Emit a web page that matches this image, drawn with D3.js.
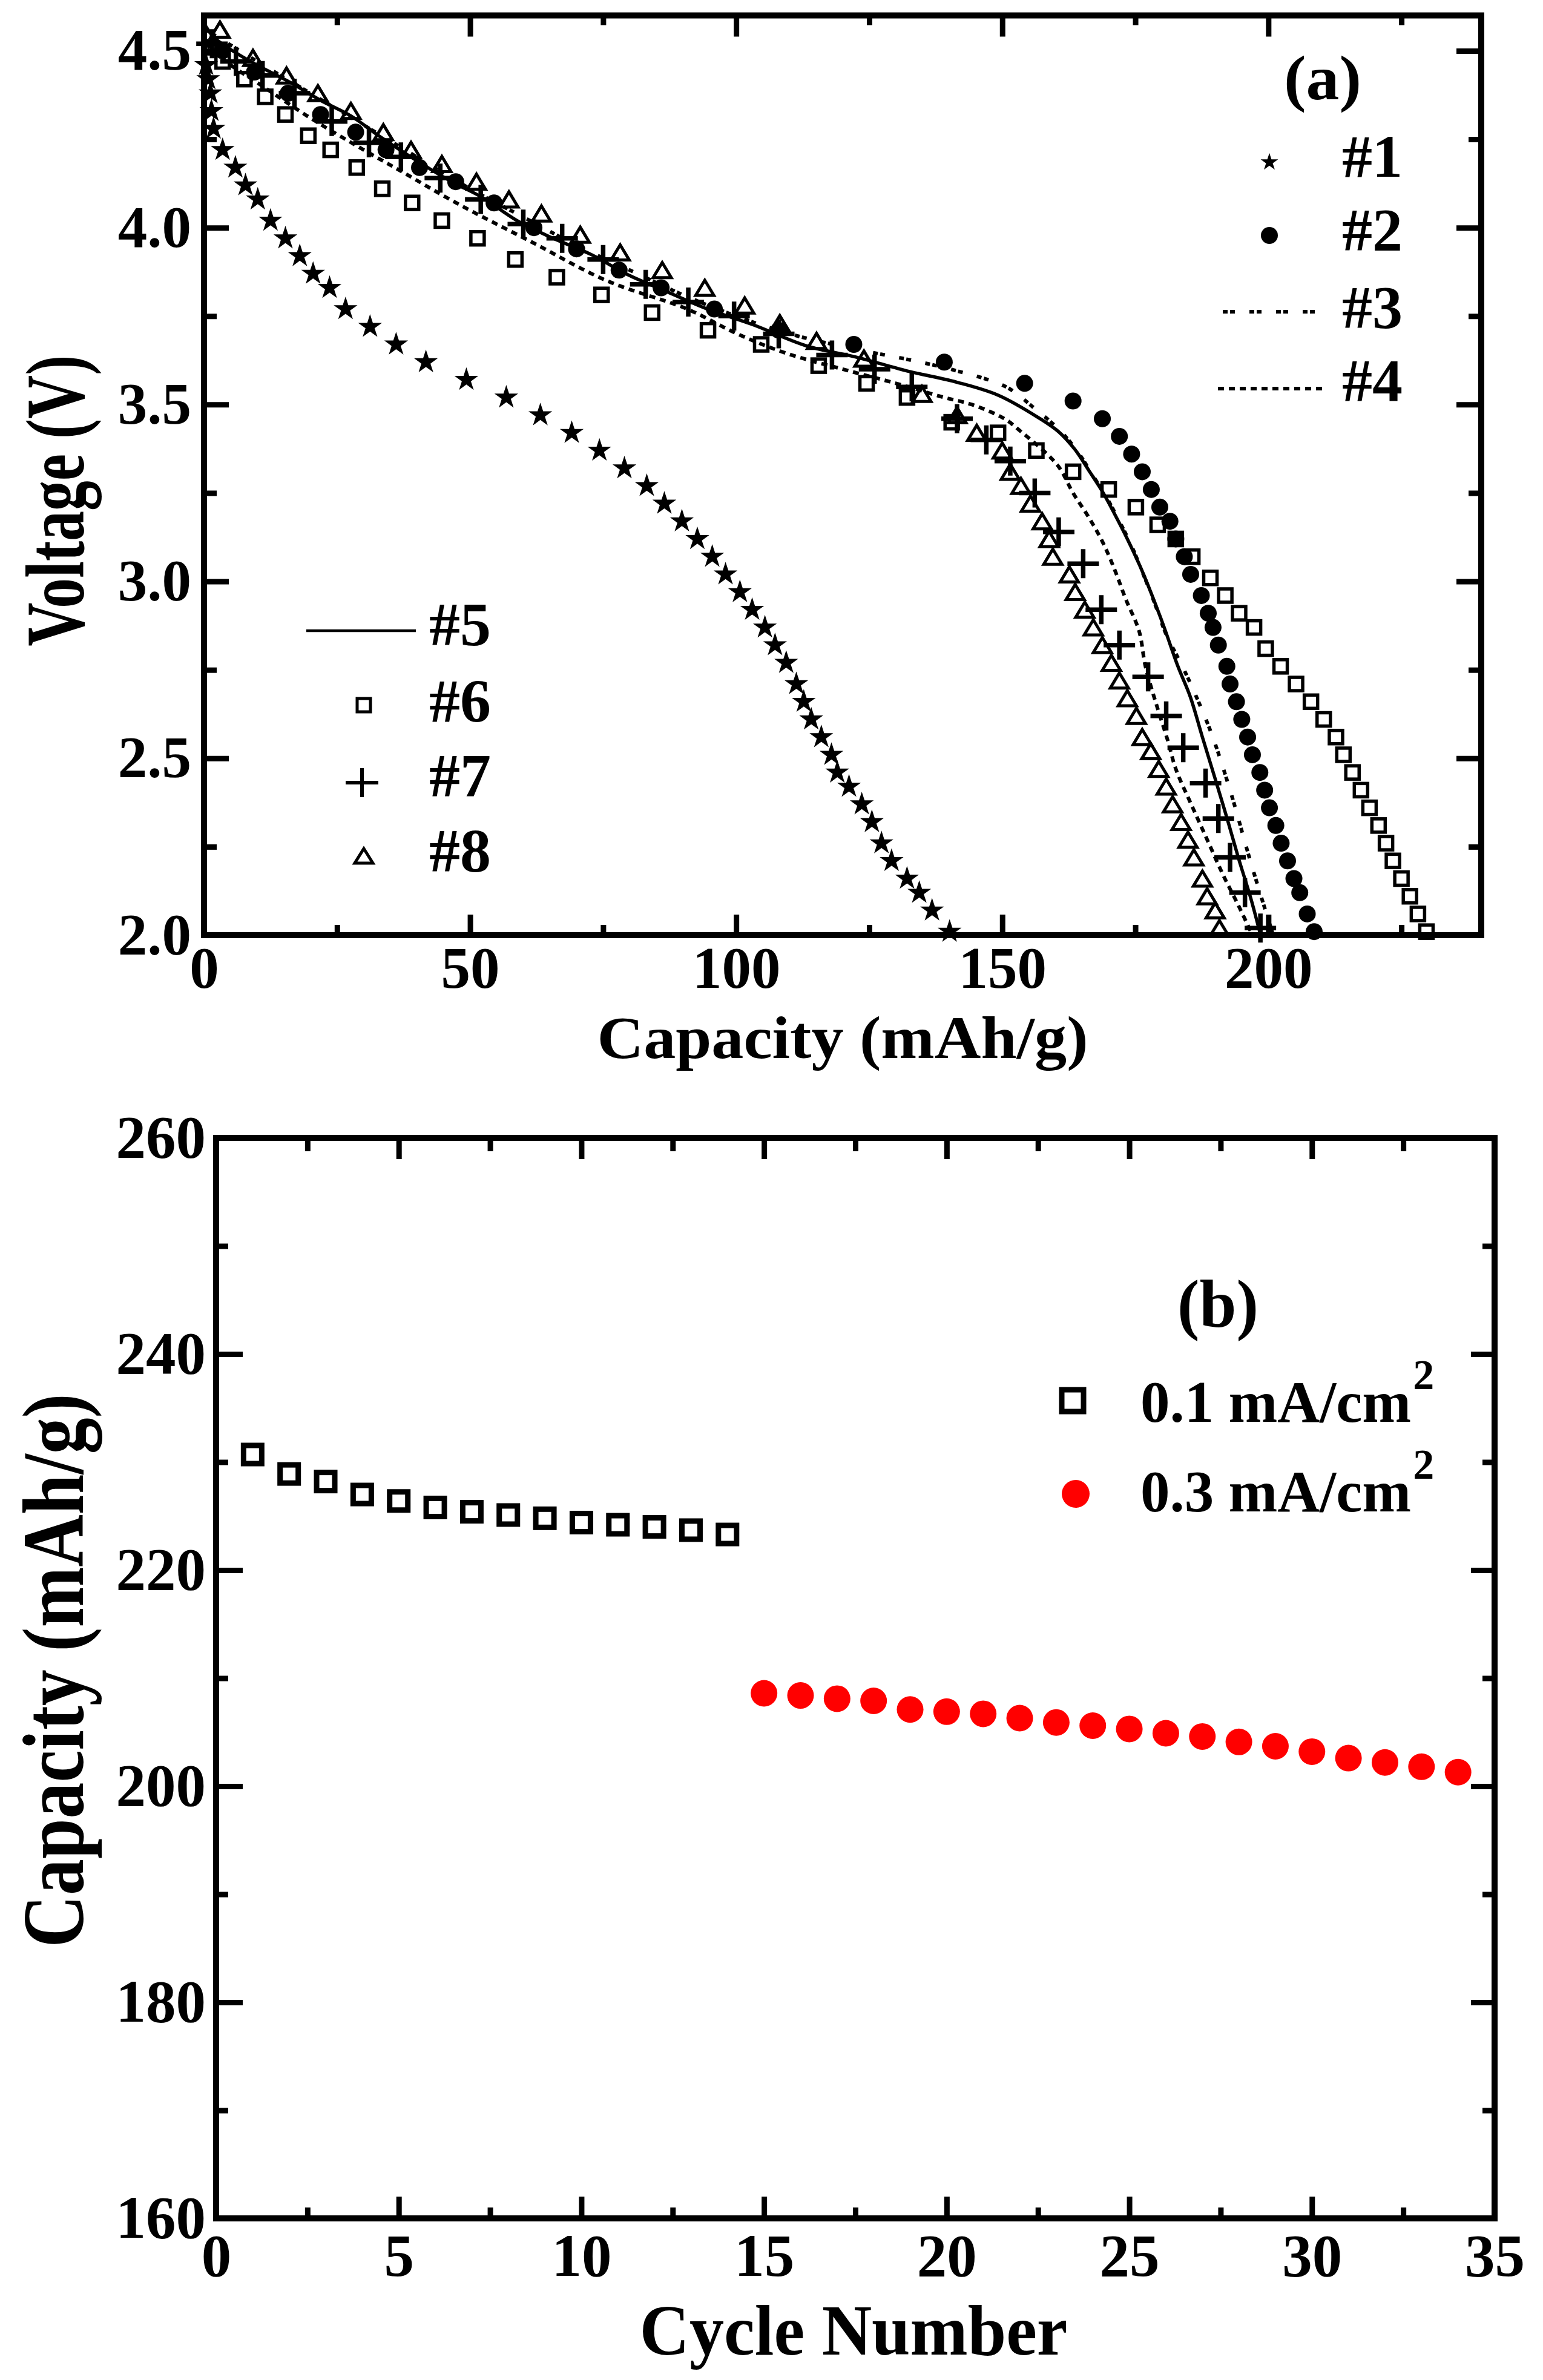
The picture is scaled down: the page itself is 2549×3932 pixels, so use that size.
<!DOCTYPE html>
<html>
<head>
<meta charset="utf-8">
<script src="https://cdn.jsdelivr.net/npm/d3@7"></script>
<style>
body { margin: 0; background: #fff; }
svg { display: block; }
</style>
</head>
<body>
<div id="cont"></div>
<script>
// ---- panel (a) data : [capacity mAh/g, voltage V] ----
var s1 = [[0.4,4.46],[0.8,4.42],[1.2,4.38],[1.4,4.33],[1.8,4.28],[3.5,4.22],[5.9,4.17],[7.8,4.12],[10.1,4.08],[12.5,4.02],
    [15.3,3.97],[18.0,3.92],[20.5,3.87],[23.6,3.83],[26.6,3.77],[31.2,3.72],[36.1,3.67],[41.7,3.62],[49.3,3.57],[56.8,3.52],
    [63.2,3.47],[69.1,3.42],[74.3,3.37],[79.0,3.32],[83.2,3.27],[86.5,3.22],[89.8,3.17],[92.7,3.12],[95.5,3.07],[98.0,3.02],
    [100.7,2.97],[103.0,2.92],[105.4,2.87],[107.3,2.82],[109.4,2.77],[111.3,2.71],[112.7,2.66],[114.1,2.61],[116.0,2.56],[117.9,2.51],
    [119.0,2.46],[121.2,2.42],[123.6,2.37],[125.5,2.32],[127.3,2.26],[129.2,2.21],[132.1,2.16],[134.4,2.12],[136.8,2.07],[140.1,2.01]];

var s2 = [[3.5,4.50],[9.5,4.44],[15.8,4.38],[21.9,4.32],[28.5,4.27],[34.2,4.22],[40.5,4.17],[47.3,4.13],[54.5,4.07],[62,4.00],
    [70,3.94],[78,3.88],[85.9,3.83],[95.9,3.77],[108,3.71],[122.1,3.67],[139.1,3.62],[154.2,3.56],[163.3,3.51],[168.8,3.46],
    [172.0,3.41],[174.3,3.36],[176.3,3.31],[178.0,3.26],[179.6,3.21],[181.5,3.17],[182.6,3.12],[184.2,3.07],[185.4,3.02],[187.4,2.96],
    [188.7,2.91],[189.6,2.87],[190.6,2.82],[192.2,2.76],[192.8,2.71],[194.0,2.66],[195.0,2.61],[196.1,2.56],[197.0,2.51],[198.4,2.46],
    [199.3,2.41],[200.2,2.36],[201.4,2.31],[202.4,2.26],[203.6,2.21],[204.8,2.16],[205.9,2.12],[207.3,2.06],[208.6,2.01]];

var s3 = [[0.3,4.56],[10,4.47],[20,4.38],[30,4.29],[40,4.20],[50,4.11],[60,4.03],[70,3.95],[80,3.88],[90,3.81],
    [100,3.75],[110,3.70],[122.6,3.656],[132.1,3.628],[141.5,3.595],[150.7,3.55],[156,3.49],[160.6,3.43],[164,3.37],[167,3.30],
    [169.5,3.24],[172,3.17],[174.3,3.10],[176.5,3.02],[178.6,2.94],[180.8,2.85],[183.5,2.77],[185.7,2.70],[189.3,2.57],[192.8,2.41],
    [196.8,2.20],[200.9,2.00]];

var s4 = [[0.3,4.52],[5,4.46],[10,4.41],[20,4.31],[30,4.22],[37,4.16],[47.4,4.07],[61.5,3.96],[75.7,3.85],[90.8,3.77],
    [100.2,3.70],[109.4,3.645],[120,3.60],[130,3.56],[139.1,3.52],[144.3,3.50],[150.4,3.46],[153.0,3.43],[160.3,3.33],[163.3,3.25],
    [166.3,3.18],[168.9,3.11],[171.2,3.03],[173.2,2.95],[175.7,2.86],[176.9,2.76],[179.0,2.65],[181.1,2.55],[182.6,2.47],[185.5,2.37],
    [188.5,2.27],[191.5,2.17],[194.5,2.08],[197.0,2.00]];

var s5 = [[0.3,4.57],[2.1,4.535],[8.7,4.47],[16.3,4.41],[21.9,4.36],[27.6,4.316],[33.2,4.256],[39.8,4.191],[46.4,4.131],[52.1,4.087],
    [58.7,4.021],[65.3,3.972],[72.9,3.923],[79.5,3.868],[87.0,3.819],[94.6,3.770],[103.1,3.726],[113.2,3.666],[122.6,3.634],[132.1,3.595],
    [141.5,3.563],[149.3,3.526],[156.9,3.462],[160.6,3.423],[163.7,3.372],[166.3,3.313],[168.9,3.252],[171.2,3.188],[173.5,3.120],[175.8,3.046],
    [178.0,2.966],[180.3,2.875],[183.0,2.760],[185.3,2.675],[187.6,2.560],[189.9,2.447],[192.2,2.332],[194.4,2.217],[196.7,2.104],[198.5,2.002]];

var s6 = [[1.0,4.51],[3.5,4.47],[7.6,4.42],[11.5,4.37],[15.3,4.32],[19.6,4.26],[23.8,4.22],[28.7,4.17],[33.5,4.11],[39.1,4.07],
    [44.7,4.02],[51.4,3.97],[58.5,3.91],[66.3,3.86],[74.7,3.81],[84.2,3.76],[94.7,3.71],[104.7,3.67],[115.5,3.61],[124.5,3.56],
    [132.1,3.52],[140.5,3.45],[149.2,3.42],[156.4,3.37],[163.3,3.31],[170.0,3.26],[175.1,3.21],[179.2,3.16],[182.6,3.12],[185.7,3.07],
    [189.1,3.01],[191.9,2.96],[194.5,2.91],[197.3,2.87],[199.5,2.81],[202.3,2.76],[205.2,2.71],[208.0,2.66],[210.4,2.61],[212.7,2.56],
    [214.1,2.51],[215.8,2.46],[217.4,2.41],[219.0,2.36],[220.7,2.31],[222.1,2.26],[223.4,2.21],[225.0,2.16],[226.6,2.11],[228.1,2.06],
    [229.7,2.01]];

var s7 = [[1.5,4.52],[6,4.47],[11,4.43],[17,4.38],[24,4.30],[31,4.24],[37,4.20],[44.4,4.14],[52,4.08],[60,4.01],
    [67.3,3.97],[75,3.91],[83,3.84],[91,3.79],[99.6,3.75],[108,3.70],[118,3.64],[126,3.60],[133,3.55],[141.5,3.46],
    [147,3.40],[151.5,3.34],[156.1,3.25],[160.6,3.14],[165.2,3.05],[168.6,2.92],[172.0,2.82],[177.4,2.73],[180.8,2.62],[184.0,2.53],
    [188.2,2.43],[190.6,2.33],[192.8,2.22],[195.6,2.12],[198.5,2.02]];

var s8 = [[3.0,4.56],[9.2,4.48],[15.5,4.43],[21.4,4.38],[27.6,4.33],[33.7,4.27],[38.9,4.22],[44.7,4.18],[51.2,4.13],[57.3,4.08],
    [63.4,4.04],[70.7,3.98],[78.2,3.93],[86.1,3.88],[94.1,3.83],[101.6,3.78],[108.2,3.73],[115.1,3.68],[124.0,3.63],[134.9,3.53],
    [141.5,3.47],[145.2,3.42],[150.0,3.37],[151.5,3.31],[153.5,3.27],[155.3,3.22],[157.5,3.17],[158.8,3.12],[159.5,3.07],[162.6,3.02],
    [163.7,2.97],[165.5,2.92],[167.1,2.87],[168.8,2.82],[170.5,2.77],[172.0,2.72],[173.5,2.67],[175.2,2.62],[176.3,2.56],[177.9,2.52],
    [179.4,2.47],[180.8,2.42],[182.0,2.37],[183.6,2.32],[184.9,2.27],[186.0,2.22],[187.6,2.16],[188.5,2.11],[190.0,2.07],[190.8,2.02]];

var aXTicks = [0, 50, 100, 150, 200];
var aXMinor = [25, 75, 125, 175, 225];
var aYTicks = [2.0, 2.5, 3.0, 3.5, 4.0, 4.5];
var aYMinor = [2.25, 2.75, 3.25, 3.75, 4.25];
var legendR = ["#1", "#2", "#3", "#4"];
var legendL = ["#5", "#6", "#7", "#8"];

// ---- panel (b) data ----
var cyc01 = [1,2,3,4,5,6,7,8,9,10,11,12,13,14];
var cap01 = [230.7,228.9,228.2,227.0,226.4,225.8,225.4,225.1,224.8,224.4,224.2,224.0,223.7,223.3];
var cyc03 = [15,16,17,18,19,20,21,22,23,24,25,26,27,28,29,30,31,32,33,34];
var cap03 = [208.6,208.4,208.1,207.9,207.1,206.9,206.7,206.3,205.9,205.6,205.3,204.9,204.6,204.1,203.7,203.2,202.6,202.2,201.8,201.3];
var bXTicks = [0, 5, 10, 15, 20, 25, 30, 35];
var bXMinor = [2.5, 7.5, 12.5, 17.5, 22.5, 27.5, 32.5];
var bYTicks = [160, 180, 200, 220, 240, 260];
var bYMinor = [170, 190, 210, 230, 250];
var legendB = ["0.1 mA/cm", "0.3 mA/cm"];

var FONT = '"Liberation Serif", "Times New Roman", serif';

var svg = d3.select("#cont").append("svg")
    .attr("width", 2549)
    .attr("height", 3932);
svg.append("rect").attr("width", 2549).attr("height", 3932).attr("fill", "#fff");

// ticks pointing inward, labels optional
function axisSet(gen, scale, vals, len, tx, ty, fmt, pad, fs) {
    var ax = gen(scale).tickValues(vals).tickSize(-len).tickPadding(pad || 0)
        .tickFormat(fmt ? fmt : function() { return ""; });
    var g = svg.append("g")
        .attr("transform", "translate(" + tx + "," + ty + ")")
        .call(ax);
    // axis() writes its own font attrs on the group, so override afterwards
    g.attr("font-family", FONT)
        .attr("font-weight", "bold")
        .attr("font-size", fs || 10);
    g.select(".domain").remove();
    g.selectAll(".tick line").attr("stroke", "#000").attr("stroke-width", 9);
    g.selectAll(".tick text").attr("fill", "#000");
    return g;
}

function label(txt, x, y, fs, len, rot, anchor) {
    var t = svg.append("text")
        .attr("transform", "translate(" + x + "," + y + ")" + (rot ? " rotate(" + rot + ")" : ""))
        .attr("font-family", FONT)
        .attr("font-weight", "bold")
        .attr("font-size", fs)
        .attr("text-anchor", anchor || "middle")
        .attr("fill", "#000")
        .text(txt);
    if (len) t.attr("textLength", len).attr("lengthAdjust", "spacingAndGlyphs");
    return t;
}

var starPath = function(s) { return d3.symbol().type(d3.symbolStar).size(s)(); };
var crossPath = function(w, h) { return "M" + (-w/2) + ",0H" + (w/2) + "M0," + (-h/2) + "V" + (h/2); };
var triPath = function(w, h) { return "M0," + (-h/2) + "L" + (w/2) + "," + (h/2) + "H" + (-w/2) + "Z"; };

// ================= panel (a) =================
var xa = d3.scaleLinear().domain([0, 240]).range([337, 2447]);
var ya = d3.scaleLinear().domain([2.0, 4.6]).range([1545, 25.5]);

var lineA = d3.line()
    .x(function(d) { return xa(d[0]); })
    .y(function(d) { return ya(d[1]); })
    .curve(d3.curveCatmullRom.alpha(0.5));

svg.append("path").datum(s5).attr("d", lineA)
    .attr("fill", "none").attr("stroke", "#000").attr("stroke-width", 5.5);
svg.append("path").datum(s3).attr("d", lineA)
    .attr("fill", "none").attr("stroke", "#000").attr("stroke-width", 6)
    .attr("stroke-dasharray", "8,4,8,24");
svg.append("path").datum(s4).attr("d", lineA)
    .attr("fill", "none").attr("stroke", "#000").attr("stroke-width", 6)
    .attr("stroke-dasharray", "10,8");

svg.selectAll(".s1").data(s1).enter().append("path")
    .attr("transform", function(d) { return "translate(" + xa(d[0]) + "," + ya(d[1]) + ")"; })
    .attr("d", starPath(480)).attr("fill", "#000");

svg.selectAll(".s2").data(s2).enter().append("circle")
    .attr("cx", function(d) { return xa(d[0]); })
    .attr("cy", function(d) { return ya(d[1]); })
    .attr("r", 14).attr("fill", "#000");

svg.selectAll(".s6").data(s6).enter().append("rect")
    .attr("x", function(d) { return xa(d[0]) - 11; })
    .attr("y", function(d) { return ya(d[1]) - 11; })
    .attr("width", 22).attr("height", 22)
    .attr("fill", "none").attr("stroke", "#000").attr("stroke-width", 5.5);

svg.selectAll(".s7").data(s7).enter().append("path")
    .attr("transform", function(d) { return "translate(" + xa(d[0]) + "," + ya(d[1]) + ")"; })
    .attr("d", crossPath(52, 48)).attr("fill", "none").attr("stroke", "#000").attr("stroke-width", 7.5);

svg.selectAll(".s8").data(s8).enter().append("path")
    .attr("transform", function(d) { return "translate(" + xa(d[0]) + "," + ya(d[1]) + ")"; })
    .attr("d", triPath(30, 25)).attr("fill", "none").attr("stroke", "#000").attr("stroke-width", 5);

// frame + ticks
svg.append("rect").attr("x", 337).attr("y", 25.5).attr("width", 2447 - 337).attr("height", 1545 - 25.5)
    .attr("fill", "none").attr("stroke", "#000").attr("stroke-width", 10);

axisSet(d3.axisBottom, xa, aXTicks, 34, 0, 1545, d3.format("d"), 18, 97);
axisSet(d3.axisBottom, xa, aXMinor, 17, 0, 1545);
axisSet(d3.axisTop, xa, aXTicks.slice(1), 35, 0, 25.5);
axisSet(d3.axisTop, xa, aXMinor, 16, 0, 25.5);
axisSet(d3.axisLeft, ya, aYTicks, 41, 337, 0, d3.format(".1f"), 21, 97);
axisSet(d3.axisLeft, ya, aYMinor, 21, 337, 0);
axisSet(d3.axisRight, ya, aYTicks.slice(1), 41, 2447, 0);
axisSet(d3.axisRight, ya, aYMinor, 21, 2447, 0);

label("Capacity (mAh/g)", 1392, 1748, 100, 811);
label("Voltage (V)", 138, 827, 137, 481, -90);

// legend right
label("(a)", 2185, 164, 103, 128);
var rBase = [292, 413, 541, 662];
legendR.forEach(function(t, i) { label(t, 2217, rBase[i], 100, null, null, "start"); });
svg.append("path").attr("transform", "translate(2097,268)").attr("d", starPath(260)).attr("fill", "#000");
svg.append("circle").attr("cx", 2097).attr("cy", 389).attr("r", 14).attr("fill", "#000");
svg.append("line").attr("x1", 2020).attr("x2", 2185).attr("y1", 515).attr("y2", 515)
    .attr("stroke", "#000").attr("stroke-width", 6).attr("stroke-dasharray", "8,4,8,24");
svg.append("line").attr("x1", 2012).attr("x2", 2192).attr("y1", 642).attr("y2", 642)
    .attr("stroke", "#000").attr("stroke-width", 6).attr("stroke-dasharray", "10,8");

// legend left
var lBase = [1066, 1193, 1316, 1440];
legendL.forEach(function(t, i) { label(t, 709, lBase[i], 102, null, null, "start"); });
svg.append("line").attr("x1", 506).attr("x2", 687).attr("y1", 1042).attr("y2", 1042)
    .attr("stroke", "#000").attr("stroke-width", 4.5);
svg.append("rect").attr("x", 590).attr("y", 1154).attr("width", 22).attr("height", 22)
    .attr("fill", "none").attr("stroke", "#000").attr("stroke-width", 5);
svg.append("path").attr("transform", "translate(598,1293)").attr("d", crossPath(54, 48))
    .attr("stroke", "#000").attr("stroke-width", 6);
svg.append("path").attr("transform", "translate(601,1414)").attr("d", triPath(30, 24))
    .attr("fill", "none").attr("stroke", "#000").attr("stroke-width", 5);

// ================= panel (b) =================
var xb = d3.scaleLinear().domain([0, 35]).range([357, 2469]);
var yb = d3.scaleLinear().domain([160, 260]).range([3665, 1880]);

svg.selectAll(".b01").data(cyc01).enter().append("rect")
    .attr("x", function(d) { return xb(d) - 15; })
    .attr("y", function(d, i) { return yb(cap01[i]) - 15; })
    .attr("width", 30).attr("height", 30)
    .attr("fill", "none").attr("stroke", "#000").attr("stroke-width", 9);

svg.selectAll(".b03").data(cyc03).enter().append("circle")
    .attr("cx", function(d) { return xb(d); })
    .attr("cy", function(d, i) { return yb(cap03[i]); })
    .attr("r", 22).attr("fill", "#ff0000");

svg.append("rect").attr("x", 357).attr("y", 1880).attr("width", 2469 - 357).attr("height", 3665 - 1880)
    .attr("fill", "none").attr("stroke", "#000").attr("stroke-width", 10);

axisSet(d3.axisBottom, xb, bXTicks, 36, 0, 3665, d3.format("d"), 25, 99);
axisSet(d3.axisBottom, xb, bXMinor, 18, 0, 3665);
axisSet(d3.axisTop, xb, bXTicks.slice(1, -1), 35, 0, 1880);
axisSet(d3.axisTop, xb, bXMinor, 22, 0, 1880);
axisSet(d3.axisLeft, yb, bYTicks, 44, 357, 0, d3.format("d"), 17, 99);
axisSet(d3.axisLeft, yb, bYMinor, 20, 357, 0);
axisSet(d3.axisRight, yb, bYTicks.slice(1, -1), 39, 2469, 0);
axisSet(d3.axisRight, yb, bYMinor, 20, 2469, 0);

label("Cycle Number", 1410, 3890, 118, 707);
label("Capacity (mAh/g)", 137, 2760, 145, 915, -90);

// legend (b)
label("(b)", 2012, 2192, 112, 134);
svg.append("rect").attr("x", 1754).attr("y", 2296).attr("width", 36).attr("height", 36)
    .attr("fill", "none").attr("stroke", "#000").attr("stroke-width", 9);
svg.append("circle").attr("cx", 1777).attr("cy", 2468).attr("r", 23).attr("fill", "#ff0000");
var bBase = [2349, 2497];
legendB.forEach(function(t, i) {
    var tx = label(t, 1884, bBase[i], 97, null, null, "start");
    tx.append("tspan").attr("dx", 3).attr("dy", -54).attr("font-size", 70).text("2");
});
</script>
</body>
</html>
